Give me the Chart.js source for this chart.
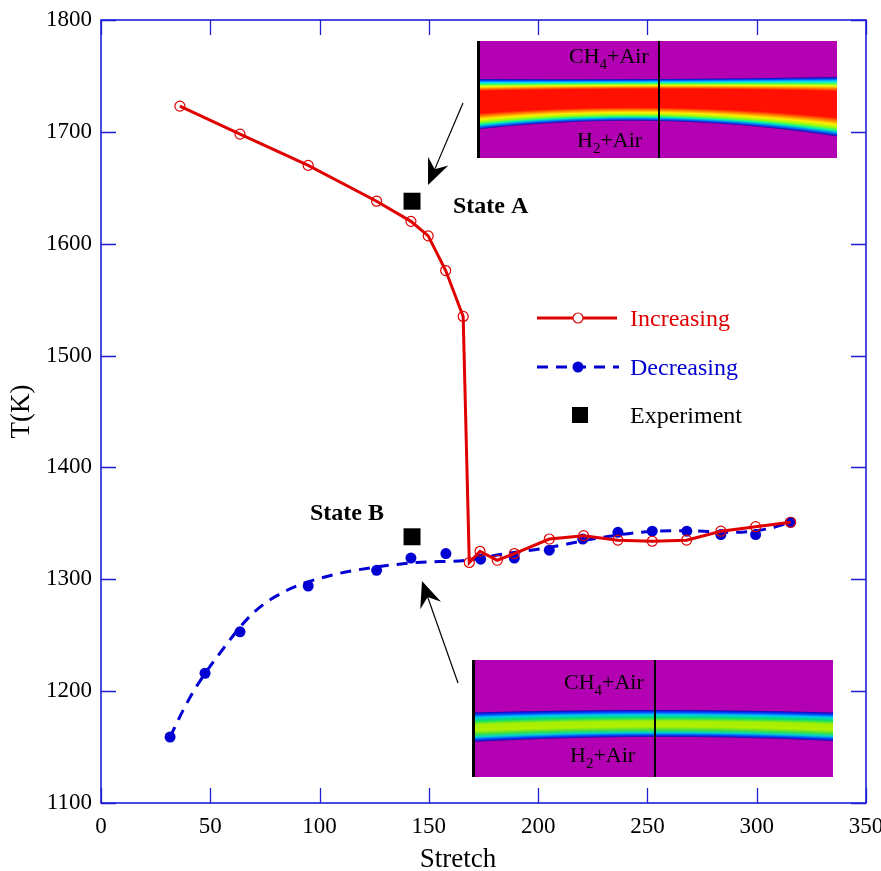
<!DOCTYPE html>
<html><head><meta charset="utf-8">
<script src="https://cdn.jsdelivr.net/npm/chart.js@4.4.1/dist/chart.umd.min.js"></script>
<style>html,body{margin:0;padding:0;background:#fff}canvas{display:block}</style>
</head><body>
<canvas id="c" width="881" height="871"></canvas>
<script>
// ---------- data ----------
const stretchIncreasing = [36.1, 63.6, 94.8, 126.1, 141.8, 149.7, 157.7, 165.7, 168.5, 173.4, 181.3, 189.1, 205.1, 220.8, 236.5, 252.2, 267.9, 283.6, 299.5, 315.5];
const tempIncreasing    = [1723, 1698, 1670, 1638, 1620, 1607, 1576, 1535, 1315, 1325, 1317, 1323, 1336, 1339, 1335, 1334, 1335, 1343, 1347, 1351];

const stretchDecreasing = [31.6, 47.6, 63.6, 94.8, 126.1, 141.8, 157.8, 173.7, 189.1, 205.1, 220.4, 236.5, 252.2, 268.0, 283.6, 299.5, 315.5];
const tempDecreasing    = [1159, 1216, 1253, 1294, 1308, 1319, 1323, 1318, 1319, 1326, 1336, 1342, 1343, 1343, 1340, 1340, 1351];

// dashed fitted curve through the decreasing branch
const stretchDecreasingFit = [31.6, 37.6, 43.0, 54.4, 69.7, 84.9, 106.3, 126.1, 144.4, 167.3, 185.6, 203.9, 222.2, 246.6, 266.4, 289.3, 306.0, 315.5];
const tempDecreasingFit    = [1159, 1183, 1202, 1234, 1270, 1290, 1304, 1311, 1315, 1317, 1323, 1328, 1335, 1342, 1343.5, 1342, 1345.5, 1351];

const stretchExperiment = [142.3, 142.3];
const tempExperiment    = [1638, 1338];

const xTicks = [0, 50, 100, 150, 200, 250, 300, 350];
const yTicks = [1100, 1200, 1300, 1400, 1500, 1600, 1700, 1800];

const seriesNames = ['Increasing', 'Decreasing', 'Experiment'];
const stateLabels = ['State A', 'State B'];
const insetLabels = ['CH', '4', '+Air', 'H', '2', '+Air'];

// ---------- styling / layout ----------
const RED = '#e00000', BLUE = '#0000d2', FRAME = 'rgb(30,30,215)';
const SERIF = "'Liberation Serif','Times New Roman',serif";
const pairs = (xs, ys) => xs.map((x, i) => ({x, y: ys[i]}));

const bgPlugin = {
  id: 'bg',
  beforeDraw(chart) {
    const c = chart.ctx; c.save(); c.fillStyle = '#fff'; c.fillRect(0, 0, chart.width, chart.height); c.restore();
  }
};

const framePlugin = {
  id: 'frame',
  afterDraw(chart) {
    const c = chart.ctx, a = chart.chartArea, xs = chart.scales.x, ys = chart.scales.y;
    c.save();
    c.strokeStyle = FRAME; c.lineWidth = 1.6;
    c.strokeRect(a.left, a.top, a.right - a.left, a.bottom - a.top);
    c.lineWidth = 1.3;
    const L = 15;
    c.beginPath();
    xTicks.forEach(v => {
      const px = Math.round(xs.getPixelForValue(v)) + 0.5;
      c.moveTo(px, a.bottom); c.lineTo(px, a.bottom - L);
      c.moveTo(px, a.top); c.lineTo(px, a.top + L);
    });
    yTicks.forEach(v => {
      const py = Math.round(ys.getPixelForValue(v)) + 0.5;
      c.moveTo(a.left, py); c.lineTo(a.left + L, py);
      c.moveTo(a.right, py); c.lineTo(a.right - L, py);
    });
    c.stroke();
    // axis titles
    c.fillStyle = '#000';
    c.font = '27px ' + SERIF;
    c.textAlign = 'center'; c.textBaseline = 'alphabetic';
    c.fillText('Stretch', 458, 867);
    c.translate(22, (a.top + a.bottom) / 2);
    c.rotate(-Math.PI / 2);
    c.textBaseline = 'middle';
    c.fillText('T(K)', 0, 0);
    c.restore();
  }
};

function drawInset(c, box, band, stops, labelPos) {
  const {x0, y0, x1, y1, mid} = box;
  c.fillStyle = 'rgb(178,0,178)';
  c.fillRect(x0, y0, x1 - x0, y1 - y0);
  const w = x1 - x0;
  for (let px = x0; px < x1; px++) {
    const u = 2 * ((px + 0.5 - x0) / w) - 1;
    const top = band.t + band.ta * u * u + band.tb * u;
    const bot = band.b + band.ba * u * u + band.bb * u;
    const g = c.createLinearGradient(0, top, 0, bot);
    stops.forEach(s => g.addColorStop(s[0], s[1]));
    c.fillStyle = g;
    c.fillRect(px, top, 1, bot - top);
  }
  c.fillStyle = '#000';
  c.fillRect(x0, y0, 3, y1 - y0);
  c.fillRect(mid - 1, y0, 2, y1 - y0);
  // labels with subscripts
  const big = '22px ' + SERIF, small = '15px ' + SERIF;
  function sub(parts, x, y) {
    c.textAlign = 'left'; c.textBaseline = 'alphabetic';
    c.font = big; c.fillText(parts[0], x, y); x += c.measureText(parts[0]).width;
    c.font = small; c.fillText(parts[1], x, y + 6); x += c.measureText(parts[1]).width;
    c.font = big; c.fillText(parts[2], x, y);
  }
  sub(insetLabels.slice(0, 3), labelPos[0], labelPos[1]);
  sub(insetLabels.slice(3, 6), labelPos[2], labelPos[3]);
}

function arrow(c, sx, sy, tx, ty) {
  const dx = tx - sx, dy = ty - sy, len = Math.hypot(dx, dy);
  const ux = dx / len, uy = dy / len, px = -uy, py = ux;
  const L = 26, W = 11, N = 17;
  c.strokeStyle = '#000'; c.lineWidth = 1.2;
  c.beginPath(); c.moveTo(sx, sy); c.lineTo(tx - ux * N, ty - uy * N); c.stroke();
  c.fillStyle = '#000';
  c.beginPath();
  c.moveTo(tx, ty);
  c.lineTo(tx - ux * L + px * W, ty - uy * L + py * W);
  c.lineTo(tx - ux * N, ty - uy * N);
  c.lineTo(tx - ux * L - px * W, ty - uy * L - py * W);
  c.closePath(); c.fill();
}

const decoPlugin = {
  id: 'deco',
  afterDraw(chart) {
    const c = chart.ctx;
    c.save();
    // top inset (hot flame, red core)
    drawInset(c, {x0: 477, y0: 41, x1: 837, y1: 158, mid: 659},
      {t: 79, ta: -1, tb: -1, b: 121, ba: 12, bb: 3.5},
      [[0, '#1a0aa0'], [0.03, '#0040ff'], [0.07, '#00d8ff'], [0.11, '#40ff60'], [0.15, '#f0ff00'],
       [0.19, '#ff9000'], [0.24, '#ff1000'], [0.68, '#ff1000'], [0.74, '#ff8000'], [0.8, '#ffee00'],
       [0.86, '#90ff10'], [0.91, '#00f0b0'], [0.96, '#0060ff'], [1, '#3000a0']],
      [569, 63, 577, 147]);
    // bottom inset (cooler flame, green core)
    drawInset(c, {x0: 472, y0: 660, x1: 833, y1: 777, mid: 655},
      {t: 710, ta: 2.5, tb: 0, b: 737, ba: 4.5, bb: -0.5},
      [[0, '#2000b0'], [0.08, '#0040ff'], [0.17, '#00c8f0'], [0.28, '#00e070'], [0.42, '#a8ee00'],
       [0.62, '#b0f000'], [0.74, '#40e040'], [0.84, '#00d0d0'], [0.93, '#0040ff'], [1, '#3000a0']],
      [564, 689, 570, 762]);
    // arrows
    arrow(c, 463, 103, 428, 185);
    arrow(c, 458, 683, 422, 581);
    // state labels
    c.fillStyle = '#000';
    c.font = 'bold 24px ' + SERIF;
    c.textAlign = 'left'; c.textBaseline = 'alphabetic';
    c.fillText(stateLabels[0], 453, 213);
    c.fillText(stateLabels[1], 310, 520);
    // legend
    const ds = chart.data.datasets;
    const rows = [318, 367, 415];
    c.font = '24px ' + SERIF; c.textBaseline = 'middle';
    // Increasing
    const inc = ds[1];
    c.strokeStyle = inc.borderColor; c.lineWidth = inc.borderWidth; c.setLineDash([]);
    c.beginPath(); c.moveTo(537, rows[0]); c.lineTo(617, rows[0]); c.stroke();
    c.fillStyle = '#fff'; c.lineWidth = inc.pointBorderWidth;
    c.beginPath(); c.arc(578, rows[0], inc.pointRadius, 0, Math.PI * 2); c.fill(); c.stroke();
    c.fillStyle = RED; c.fillText(seriesNames[0], 630, rows[0] + 2);
    // Decreasing
    const fit = ds[3], dec = ds[2];
    c.strokeStyle = fit.borderColor; c.lineWidth = fit.borderWidth; c.setLineDash(fit.borderDash);
    c.beginPath(); c.moveTo(537, rows[1]); c.lineTo(619, rows[1]); c.stroke();
    c.setLineDash([]);
    c.fillStyle = dec.pointBackgroundColor;
    c.beginPath(); c.arc(578, rows[1], dec.pointRadius, 0, Math.PI * 2); c.fill();
    c.fillStyle = BLUE; c.fillText(seriesNames[1], 630, rows[1] + 2);
    // Experiment
    c.fillStyle = '#000';
    c.fillRect(572, rows[2] - 8, 16, 16);
    c.fillText(seriesNames[2], 630, rows[2] + 2);
    c.restore();
  }
};

new Chart(document.getElementById('c'), {
  type: 'scatter',
  data: {
    datasets: [
      {label: seriesNames[2], data: pairs(stretchExperiment, tempExperiment), pointStyle: 'rect',
       pointRadius: 12, backgroundColor: '#000', borderWidth: 0, showLine: false},
      {label: seriesNames[0], data: pairs(stretchIncreasing, tempIncreasing), showLine: true,
       borderColor: RED, borderWidth: 3, tension: 0, pointRadius: 5, pointBorderWidth: 1.2,
       pointBorderColor: RED, pointBackgroundColor: 'rgba(0,0,0,0)'},
      {label: seriesNames[1], data: pairs(stretchDecreasing, tempDecreasing), showLine: false,
       pointRadius: 5.5, pointBorderWidth: 0, pointBackgroundColor: BLUE, backgroundColor: BLUE},
      {label: seriesNames[1] + ' fit', data: pairs(stretchDecreasingFit, tempDecreasingFit), showLine: true,
       borderColor: BLUE, borderWidth: 3, borderDash: [11, 8], pointRadius: 0,
       cubicInterpolationMode: 'monotone'}
    ]
  },
  options: {
    responsive: false, animation: false, devicePixelRatio: 1, events: [],
    layout: {padding: {left: 0, right: 15, top: 20, bottom: 0}},
    plugins: {legend: {display: false}, tooltip: {enabled: false}},
    scales: {
      x: {
        type: 'linear', min: 0, max: 350,
        afterBuildTicks: s => { s.ticks = xTicks.map(v => ({value: v})); },
        afterFit: s => { s.height = 68; s.paddingLeft = 0; s.paddingRight = 0; },
        grid: {display: false, drawTicks: false}, border: {display: false},
        ticks: {color: '#000', font: {family: SERIF, size: 23}, padding: 10, maxRotation: 0,
                callback: v => String(v)}
      },
      y: {
        type: 'linear', min: 1100, max: 1800,
        afterBuildTicks: s => { s.ticks = yTicks.map(v => ({value: v})); },
        afterFit: s => { s.width = 101; s.paddingTop = 0; s.paddingBottom = 0; },
        grid: {display: false, drawTicks: false}, border: {display: false},
        ticks: {color: '#000', font: {family: SERIF, size: 23}, padding: 9,
                callback: v => String(v)}
      }
    }
  },
  plugins: [bgPlugin, framePlugin, decoPlugin]
});
</script>
</body></html>
